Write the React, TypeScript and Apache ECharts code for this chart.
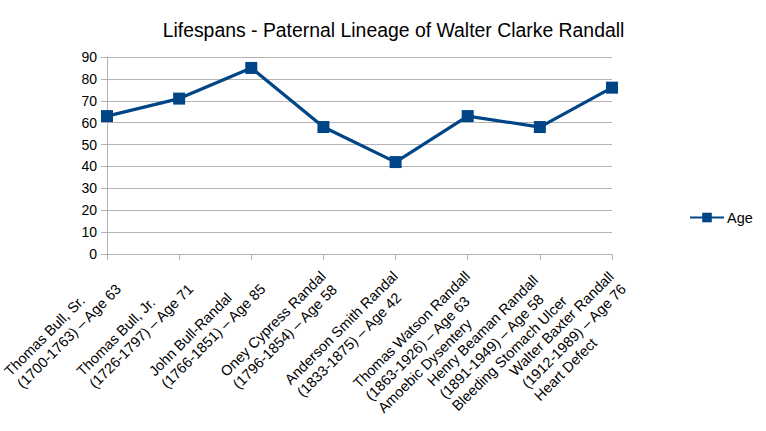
import React, { useEffect, useRef } from "react";
import * as echarts from "echarts";

const categories = [
  "Thomas Bull, Sr.\n(1700-1763) – Age 63",
  "Thomas Bull, Jr.\n(1726-1797) – Age 71",
  "John Bull-Randal\n(1766-1851) – Age 85",
  "Oney Cypress Randal\n(1796-1854) – Age 58",
  "Anderson Smith Randal\n(1833-1875) – Age 42",
  "Thomas Watson Randall\n(1863-1926) – Age 63\nAmoebic Dysentery",
  "Henry Beaman Randall\n(1891-1949) – Age 58\nBleeding Stomach Ulcer",
  "Walter Baxter Randall\n(1912-1989) – Age 76\nHeart Defect",
];
const ages = [63, 71, 85, 58, 42, 63, 58, 76];
const seriesName = "Age";
const titleText = "Lifespans - Paternal Lineage of Walter Clarke Randall";

export default function App() {
  const ref = useRef<HTMLDivElement>(null);
  useEffect(() => {
    if (!ref.current) return;
    const chart = echarts.init(ref.current, null, { renderer: "svg" });
    const font = "'Liberation Sans', Arial, sans-serif";
    chart.setOption({
      animation: false,
      backgroundColor: "#ffffff",
      textStyle: { fontFamily: font },
      title: {
        text: titleText,
        left: 388.5,
        top: 15,
        textAlign: "center",
        textStyle: { fontFamily: font, fontSize: 19.4, fontWeight: "normal", color: "#000" },
      },
      legend: {
        data: [seriesName],
        left: 689,
        top: 210,
        padding: 0,
        itemWidth: 34,
        itemHeight: 12,
        itemGap: 4,
        textStyle: { fontFamily: font, fontSize: 14.5, color: "#000", padding: [0, 0, 0, -2] },
      },
      grid: {
        left: 107,
        right: 154,
        top: 57,
        bottom: 177,
        containLabel: false,
        outerBoundsMode: "none",
      },
      xAxis: {
        type: "category",
        data: categories,
        boundaryGap: false,
        axisLine: { lineStyle: { color: "#b3b3b3", width: 1 } },
        axisTick: { show: true, length: 6, alignWithLabel: true, lineStyle: { color: "#b3b3b3" } },
        axisLabel: {
          rotate: 45,
          interval: 0,
          align: "right",
          verticalAlign: "top",
          fontFamily: font,
          fontSize: 14.5,
          color: "#000",
          lineHeight: 17.5,
          margin: 0,
          padding: [5, 14, 0, 0],
          formatter: (v: string) =>
            v
              .split("\n")
              .map((s) => "{l|" + s + "}")
              .join("\n"),
          rich: {
            l: {
              align: "left",
              fontFamily: font,
              fontSize: 14.5,
              lineHeight: 17.5,
              color: "#000",
            },
          },
        },
        splitLine: { show: false },
      },
      yAxis: {
        type: "value",
        min: 0,
        max: 90,
        interval: 10,
        axisLine: { show: true, lineStyle: { color: "#b3b3b3" } },
        axisTick: { show: true, length: 6, lineStyle: { color: "#b3b3b3" } },
        axisLabel: { fontFamily: font, fontSize: 14, color: "#000", margin: 10 },
        splitLine: { show: true, lineStyle: { color: "#b3b3b3", width: 1 } },
      },
      series: [
        {
          name: seriesName,
          type: "line",
          data: ages,
          symbol: "rect",
          symbolSize: 12,
          lineStyle: { color: "#004586", width: 3.2 },
          itemStyle: { color: "#004586" },
        },
      ],
    });
    return () => chart.dispose();
  }, []);
  return (
    <div
      ref={ref}
      style={{ position: "fixed", left: 0, top: 0, width: 766, height: 431 }}
    />
  );
}
